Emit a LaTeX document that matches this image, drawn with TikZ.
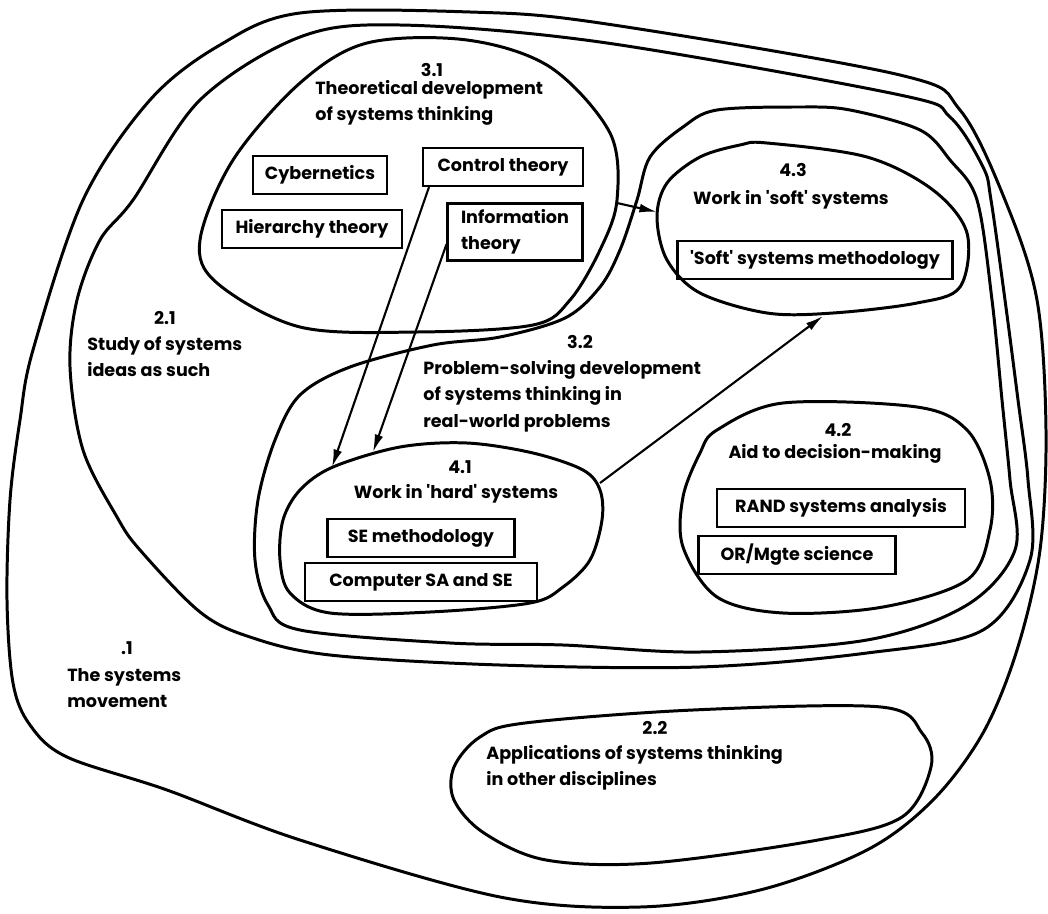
\documentclass[tikz,border=0pt]{standalone}
\usepackage{fontspec}
\setmainfont{Poppins}
\usetikzlibrary{arrows.meta}

\newcommand{\lblfont}{\fontsize{10}{15}\selectfont\bfseries}
\tikzset{
  blob/.style={line width=1.7pt},
  itembox/.style={draw, line width=1.2pt, inner xsep=3pt, minimum height=0.76cm, font=\lblfont},
  numlabel/.style={inner sep=0pt, font=\lblfont},
  bodytext/.style={align=left, anchor=north west, inner sep=0pt, font=\lblfont},
  flow/.style={line width=1.2pt, -{Latex[length=10pt,width=5pt]}},
}

\begin{document}
\begin{tikzpicture}[x=0.02cm,y=-0.02cm]
    \useasboundingbox (0,0) rectangle (1048,913);

    % .1 The systems movement
    \draw[blob] plot[smooth cycle, tension=0.55] coordinates {
      (300,13) (470,12) (600,23) (900,75) (960,110) (1005,200) (1037,300)
      (1046,430) (1040,550) (1017,650) (983,733) (933,800) (867,850)
      (760,890) (640,907) (500,897) (300,840) (167,790) (67,757) (30,725)
      (13,683) (7,600) (10,500) (20,420) (33,350) (83,200) (150,100) (220,45)};

    % 2.1 Study of systems ideas as such
    \draw[blob] plot[smooth cycle, tension=0.55] coordinates {
      (300,37) (400,25) (600,42) (900,95) (950,117) (983,167) (991,200)
      (1005,300) (1018,400) (1028,480) (1030,560) (983,630) (867,653)
      (700,667) (500,665) (330,655) (250,637) (200,612) (140,550) (117,517)
      (83,450) (70,367) (77,300) (100,240) (133,200) (200,100)};

    % 3.2 Problem-solving development
    \draw[blob] plot[smooth cycle, tension=0.55] coordinates {
      (255,560) (268,605) (300,630) (450,643) (563,645) (700,652) (867,640)
      (967,605) (1015,550) (1010,480) (1002,400) (992,300) (977,200)
      (950,160) (920,130) (850,110) (800,107) (717,110) (683,127) (650,157)
      (637,200) (620,250) (600,287) (565,318) (500,337) (433,345) (350,367)
      (300,395) (275,440) (258,500)};

    % 3.1 Theoretical development
    \draw[blob] plot[smooth cycle, tension=0.55] coordinates {
      (300,327) (217,283) (200,240) (233,160) (300,83) (367,43) (467,40)
      (550,67) (610,133) (617,200) (600,250) (570,300) (533,325) (417,332)};

    % 4.3 soft systems
    \draw[blob] plot[smooth cycle, tension=0.55] coordinates {
      (767,143) (867,157) (933,190) (967,233) (960,287) (917,303) (833,313)
      (767,313) (700,293) (667,260) (657,217) (667,183) (700,157) (740,145)};

    % 4.2 decision-making
    \draw[blob] plot[smooth cycle, tension=0.55] coordinates {
      (717,430) (783,403) (917,407) (967,430) (990,480) (990,530) (967,580)
      (883,607) (783,613) (717,597) (683,547) (683,497) (700,453)};

    % 4.1 hard systems
    \draw[blob] plot[smooth cycle, tension=0.55] coordinates {
      (333,467) (400,447) (467,443) (533,453) (583,470) (600,490) (602,520)
      (590,560) (563,587) (530,603) (430,612) (330,613) (290,593) (280,560)
      (283,520) (300,490)};

    % 2.2 other disciplines
    \draw[blob] plot[smooth cycle, tension=0.55] coordinates {
      (454,767) (480,737) (525,723) (693,710) (881,707) (922,733) (931,767)
      (902,817) (818,840) (651,863) (546,860) (484,833) (454,800)};

    % Region labels
    \node[numlabel] (n1) at (127,648) {.1};
    \node[bodytext] (t1) at (67,668) {The systems\\movement};
    \node[numlabel] (n21) at (165,318) {2.1};
    \node[bodytext] (t21) at (87,336) {Study of systems\\ideas as such};
    \node[numlabel] (n22) at (655,728) {2.2};
    \node[bodytext] (t22) at (486,745) {Applications of systems thinking\\in other disciplines};
    \node[numlabel] (n31) at (432,70) {3.1};
    \node[bodytext] (t31) at (315,80) {Theoretical development\\of systems thinking};
    \node[numlabel] (n32) at (580,342) {3.2};
    \node[bodytext] (t32) at (423,360) {Problem-solving development\\of systems thinking in\\real-world problems};
    \node[numlabel] (n41) at (460,467) {4.1};
    \node[numlabel] (t41) at (456,494) {Work in \textquotesingle hard\textquotesingle\ systems};
    \node[numlabel] (n42) at (838,430) {4.2};
    \node[numlabel] (t42) at (835,454) {Aid to decision-making};
    \node[numlabel] (n43) at (793,170) {4.3};
    \node[numlabel] (t43) at (791,200) {Work in \textquotesingle soft\textquotesingle\ systems};

    % Boxes
    \node[itembox, minimum width=2.68cm] (cyb) at (320,175) {Cybernetics};
    \node[itembox, minimum width=3.6cm] (hier) at (312,229) {Hierarchy theory};
    \node[itembox, minimum width=3.2cm] (ctrl) at (503,167) {Control theory};
    \node[itembox, minimum width=2.7cm, minimum height=1.14cm, align=left] (info) at (515,232) {Information\\theory};
    \node[itembox, minimum width=5.5cm] (ssm) at (815,260) {\textquotesingle Soft\textquotesingle\ systems methodology};
    \node[itembox, minimum width=3.74cm] (sem) at (421,538) {SE methodology};
    \node[itembox, minimum width=4.64cm] (csa) at (421,582) {Computer SA and SE};
    \node[itembox, minimum width=4.96cm] (rand) at (841,508) {RAND systems analysis};
    \node[itembox, minimum width=3.94cm] (orm) at (797,555) {OR/Mgte science};

    % Points on the region outlines
    \coordinate (e31) at (617,203);
    \coordinate (w43) at (657,212);
    \coordinate (top41a) at (332,467);
    \coordinate (top41b) at (373,452);
    \coordinate (e41) at (600,483);
    \coordinate (s43) at (823,316);

    % Arrows
    \draw[flow] ([xshift=4pt]ctrl.south west) -- (top41a);
    \draw[flow] ([yshift=-7pt]info.west) -- (top41b);
    \draw[flow] (e31) -- (w43);
    \draw[flow] (e41) -- (s43);
\end{tikzpicture}
\end{document}
